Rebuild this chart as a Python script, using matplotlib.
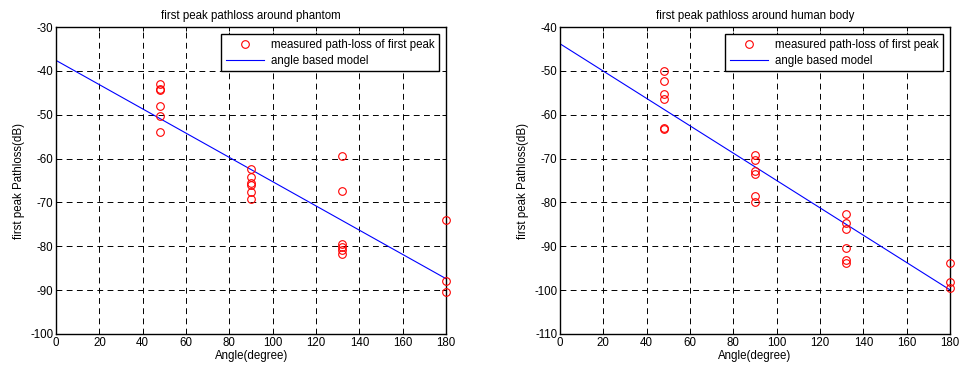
import numpy as np
from matplotlib import pyplot as plt

# measured first-peak path loss, phantom
ang_ph = [48, 48, 48, 48, 48, 48,
          90, 90, 90, 90, 90, 90,
          132, 132, 132, 132, 132, 132,
          180, 180, 180]
pl_ph = [-43.0, -44.1, -44.4, -48.1, -50.2, -54.0,
         -62.4, -64.3, -65.6, -66.0, -67.5, -69.2,
         -59.5, -67.3, -79.5, -80.2, -80.9, -81.7,
         -74.0, -87.9, -90.4]

# measured first-peak path loss, human body
ang_hb = [48, 48, 48, 48, 48, 48,
          90, 90, 90, 90, 90, 90,
          132, 132, 132, 132, 132, 132,
          180, 180, 180]
pl_hb = [-50.1, -52.4, -55.3, -56.5, -63.0, -63.2,
         -69.2, -70.4, -72.9, -73.5, -78.6, -79.9,
         -82.7, -84.7, -86.0, -90.5, -93.1, -93.8,
         -93.8, -98.1, -99.5]

# angle based model: PL = a + b * angle
model_ph = (-37.6, -0.2767)
model_hb = (-43.8, -0.312)

titles = ["first peak pathloss around phantom", "first peak pathloss around human body"]
ylims = [(-100, -30), (-110, -40)]

plt.rcParams["font.family"] = ["Liberation Sans", "DejaVu Sans"]
plt.rcParams["font.size"] = 8.3
plt.rcParams["axes.unicode_minus"] = False

fig = plt.figure(figsize=(9.61, 3.68), dpi=100)
axes = [fig.add_axes([0.0583, 0.0924, 0.406, 0.834]),
        fig.add_axes([0.5827, 0.0924, 0.406, 0.834])]

data = [(ang_ph, pl_ph, model_ph), (ang_hb, pl_hb, model_hb)]
for ax, (ang, pl, model), title, ylim in zip(axes, data, titles, ylims):
    xs = np.linspace(0, 180, 200)
    ax.plot(ang, pl, "o", mfc="none", mec="red", ms=5.5, mew=0.8,
            label="measured path-loss of first peak", clip_on=False, zorder=3)
    ax.plot(xs, model[0] + model[1] * xs, color="blue", lw=0.8, label="angle based model")
    ax.set_xlim(0, 180)
    ax.set_ylim(*ylim)
    ax.set_xticks(range(0, 181, 20))
    ax.set_yticks(range(ylim[0], ylim[1] + 1, 10))
    ax.grid(True, color="black", linestyle=(0, (6, 4.5)), linewidth=0.7)
    ax.tick_params(direction="in", top=True, right=True, length=3, width=0.7, pad=2)
    for s in ax.spines.values():
        s.set_linewidth(1.0)
    ax.set_title(title, fontsize=8.3, pad=6)
    ax.set_xlabel("Angle(degree)", labelpad=1)
    ax.set_ylabel("first peak Pathloss(dB)", labelpad=4)
    leg = ax.legend(loc="upper right", fancybox=False, framealpha=1, edgecolor="black",
                    borderaxespad=0.6, handlelength=3.3, handletextpad=0.6,
                    labelspacing=0.35, fontsize=8.3)
    leg.get_frame().set_linewidth(1.0)

fig.savefig("out.png", dpi=100)
